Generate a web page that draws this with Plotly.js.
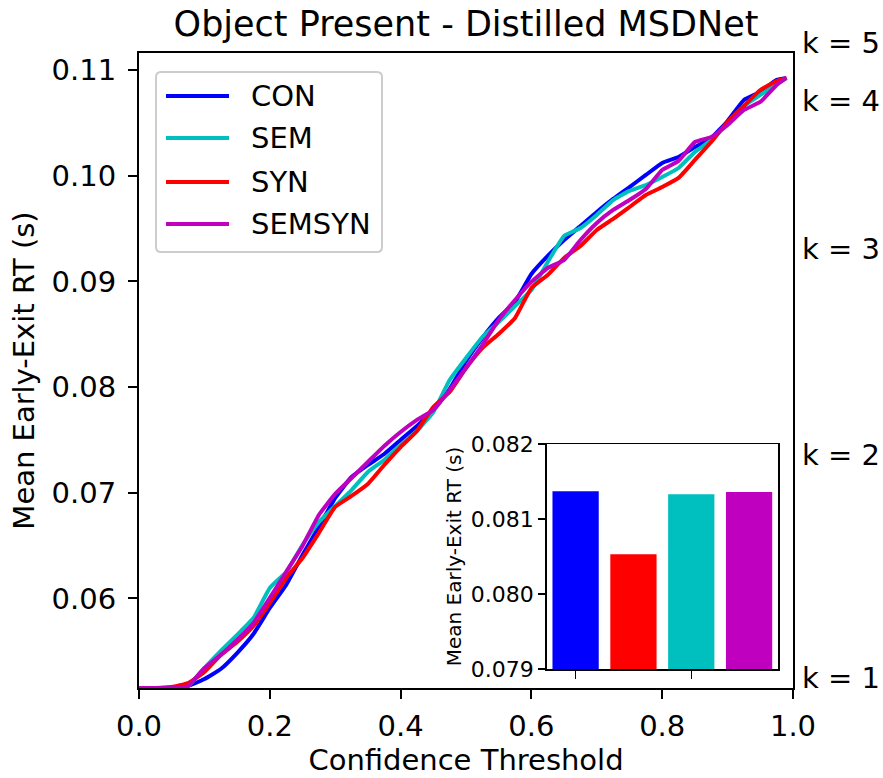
<!DOCTYPE html>
<html><head><meta charset="utf-8">
<script src="https://cdn.plot.ly/plotly-3.0.1.min.js"></script>
<style>html,body{margin:0;padding:0;background:#fff}#chart{width:883px;height:778px}</style>
</head><body><div id="chart"></div>
<script>
// ---- data ----
const threshold = [0,0.025,0.05,0.075,0.1,0.125,0.15,0.175,0.2,0.225,0.25,0.275,0.3,0.325,0.35,0.375,0.4,0.425,0.45,0.475,0.5,0.525,0.55,0.575,0.6,0.625,0.65,0.675,0.7,0.725,0.75,0.775,0.8,0.825,0.85,0.875,0.9,0.925,0.95,0.975,0.99];
const conRT = [0.05153,0.05153,0.05158,0.05172,0.05238,0.05333,0.05484,0.05664,0.05910,0.06128,0.06411,0.06676,0.06951,0.07149,0.07263,0.07367,0.07500,0.07632,0.07783,0.07982,0.08247,0.08465,0.08654,0.08805,0.09070,0.09241,0.09392,0.09524,0.09657,0.09780,0.09893,0.10007,0.10121,0.10177,0.10272,0.10357,0.10518,0.10717,0.10792,0.10906,0.10925];
const semRT = [0.05153,0.05153,0.05158,0.05172,0.05342,0.05503,0.05655,0.05815,0.06099,0.06251,0.06506,0.06724,0.06875,0.07026,0.07197,0.07310,0.07452,0.07585,0.07764,0.08067,0.08275,0.08474,0.08616,0.08767,0.08919,0.09184,0.09430,0.09505,0.09629,0.09770,0.09856,0.09912,0.09988,0.10073,0.10225,0.10338,0.10499,0.10660,0.10764,0.10868,0.10925];
const synRT = [0.05153,0.05153,0.05162,0.05200,0.05304,0.05465,0.05588,0.05740,0.05957,0.06194,0.06383,0.06620,0.06866,0.06970,0.07083,0.07263,0.07433,0.07585,0.07812,0.07954,0.08181,0.08370,0.08503,0.08654,0.08938,0.09061,0.09222,0.09335,0.09487,0.09591,0.09704,0.09818,0.09893,0.09979,0.10149,0.10319,0.10509,0.10660,0.10811,0.10896,0.10925];
const semsynRT = [0.05153,0.05153,0.05153,0.05172,0.05342,0.05465,0.05607,0.05768,0.06005,0.06251,0.06497,0.06790,0.06989,0.07140,0.07291,0.07443,0.07575,0.07689,0.07783,0.07973,0.08181,0.08398,0.08635,0.08824,0.08995,0.09127,0.09203,0.09392,0.09553,0.09676,0.09770,0.09875,0.10054,0.10140,0.10319,0.10366,0.10480,0.10622,0.10698,0.10859,0.10925];
const seriesNames = ['CON','SEM','SYN','SEMSYN'];
const seriesColors = ['#0000ff','#00bfbf','#ff0000','#bf00bf'];
const barCategories = ['CON','SYN','SEM','SEMSYN'];
const barValues = [0.08137,0.08053,0.08133,0.08136];
const barColors = ['#0000ff','#ff0000','#00bfbf','#bf00bf'];
const exitLabels = ['k = 1','k = 2','k = 3','k = 4','k = 5'];
const exitTimes = [0.05153,0.07263,0.09210,0.10610,0.11161];
const xTicks = [0,0.2,0.4,0.6,0.8,1.0];
const yTicks = [0.06,0.07,0.08,0.09,0.10,0.11];
const insetTicks = [0.079,0.080,0.081,0.082];

// ---- layout helpers ----
const W = 883, H = 778;
const M = {l:139, r:90, t:53, b:90};
const PW = W - M.l - M.r, PH = H - M.t - M.b;
const px2x = p => (p - M.l) / PW;
const py2y = p => (H - M.b - p) / PH;
const font = 'DejaVu Sans';

const seriesData = [conRT, semRT, synRT, semsynRT];
const traces = seriesData.map((d,i)=>({
  type:'scatter', mode:'lines', x: threshold, y: d, name: seriesNames[i],
  line:{color: seriesColors[i], width:4, shape:'spline', smoothing:0.4},
  showlegend:false, xaxis:'x', yaxis:'y', hoverinfo:'skip'
}));
traces.push({
  type:'bar', x: barCategories.map((c,i)=>i), y: barValues, width:0.8,
  marker:{color: barColors, line:{width:0}}, xaxis:'x2', yaxis:'y2',
  showlegend:false, hovertext: barCategories
});

// legend (manual to match long line samples)
const lgX0 = px2x(156), lgX1 = px2x(382), lgY0 = py2y(252), lgY1 = py2y(72);
const rx = 5/PW, ry = 5/PH;
const lgPath = `M${lgX0+rx},${lgY0} L${lgX1-rx},${lgY0} Q${lgX1},${lgY0} ${lgX1},${lgY0+ry} L${lgX1},${lgY1-ry} Q${lgX1},${lgY1} ${lgX1-rx},${lgY1} L${lgX0+rx},${lgY1} Q${lgX0},${lgY1} ${lgX0},${lgY1-ry} L${lgX0},${lgY0+ry} Q${lgX0},${lgY0} ${lgX0+rx},${lgY0} Z`;
const shapes = [{type:'path', xref:'paper', yref:'paper', path: lgPath,
  fillcolor:'rgba(255,255,255,0.8)', line:{color:'#cccccc', width:2}}];
const lgRows = [96,138,182,224];
const annotations = [];
seriesNames.forEach((n,i)=>{
  shapes.push({type:'line', xref:'paper', yref:'paper', x0:px2x(166), x1:px2x(229),
    y0:py2y(lgRows[i]), y1:py2y(lgRows[i]), line:{color:seriesColors[i], width:4}});
  annotations.push({xref:'paper', yref:'paper', x:px2x(249), y:py2y(lgRows[i]),
    xanchor:'left', yanchor:'middle', text:n, showarrow:false, font:{family:font, size:29, color:'#000'}});
});
exitLabels.forEach((t,i)=>{
  annotations.push({xref:'paper', yref:'y', x:px2x(800), y: exitTimes[i], xanchor:'left', yanchor:'middle',
    yshift:10, text:t, showarrow:false, font:{family:font, size:29, color:'#000'}});
});

const layout = {
  width:W, height:H, margin:{l:M.l, r:M.r, t:M.t, b:M.b, autoexpand:false},
  paper_bgcolor:'#fff', plot_bgcolor:'#fff',
  font:{family:font, color:'#000', size:29},
  title:{text:'Object Present - Distilled MSDNet', font:{family:font, size:35, color:'#000'},
    x:0.5, xref:'paper', xanchor:'center', y:1-24/H, yref:'container', yanchor:'middle'},
  xaxis:{domain:[0,1], range:[0,1], tickvals:xTicks, ticktext:xTicks.map(v=>v.toFixed(1)),
    ticks:'outside', ticklen:9, tickwidth:2, tickcolor:'#000', showline:true, linewidth:2, linecolor:'#000',
    mirror:true, showgrid:false, zeroline:false, tickfont:{size:29}, ticklabelstandoff:2,
    title:{text:'Confidence Threshold', font:{size:29}, standoff:8}},
  yaxis:{domain:[0,1], range:[exitTimes[0], exitTimes[4]], tickvals:yTicks, ticktext:yTicks.map(v=>v.toFixed(2)),
    ticks:'outside', ticklen:9, tickwidth:2, tickcolor:'#000', showline:true, linewidth:2, linecolor:'#000',
    mirror:true, showgrid:false, zeroline:false, tickfont:{size:29}, ticklabelstandoff:6,
    title:{text:'Mean Early-Exit RT (s)', font:{size:29}, standoff:8}},
  xaxis2:{domain:[px2x(546.7), px2x(778)], anchor:'y2', range:[-0.5,3.5], tickvals:[0,2], ticktext:['',''],
    ticks:'outside', ticklen:8, tickwidth:1.5, tickcolor:'#000', showline:true, linewidth:1.5, linecolor:'#000',
    mirror:true, showgrid:false, zeroline:false},
  yaxis2:{domain:[py2y(669), py2y(444)], anchor:'x2', range:[0.079,0.082], tickvals:insetTicks,
    ticktext:insetTicks.map(v=>v.toFixed(3)), ticks:'outside', ticklen:7, tickwidth:1.5, tickcolor:'#000',
    showline:true, linewidth:1.5, linecolor:'#000', mirror:true, showgrid:false, zeroline:false,
    tickfont:{size:22}, ticklabelstandoff:0,
    title:{text:'Mean Early-Exit RT (s)', font:{size:20}, standoff:4}},
  shapes: shapes, annotations: annotations, showlegend:false, bargap:0.2
};
Plotly.newPlot('chart', traces, layout, {displayModeBar:false, staticPlot:true});
</script></body></html>
